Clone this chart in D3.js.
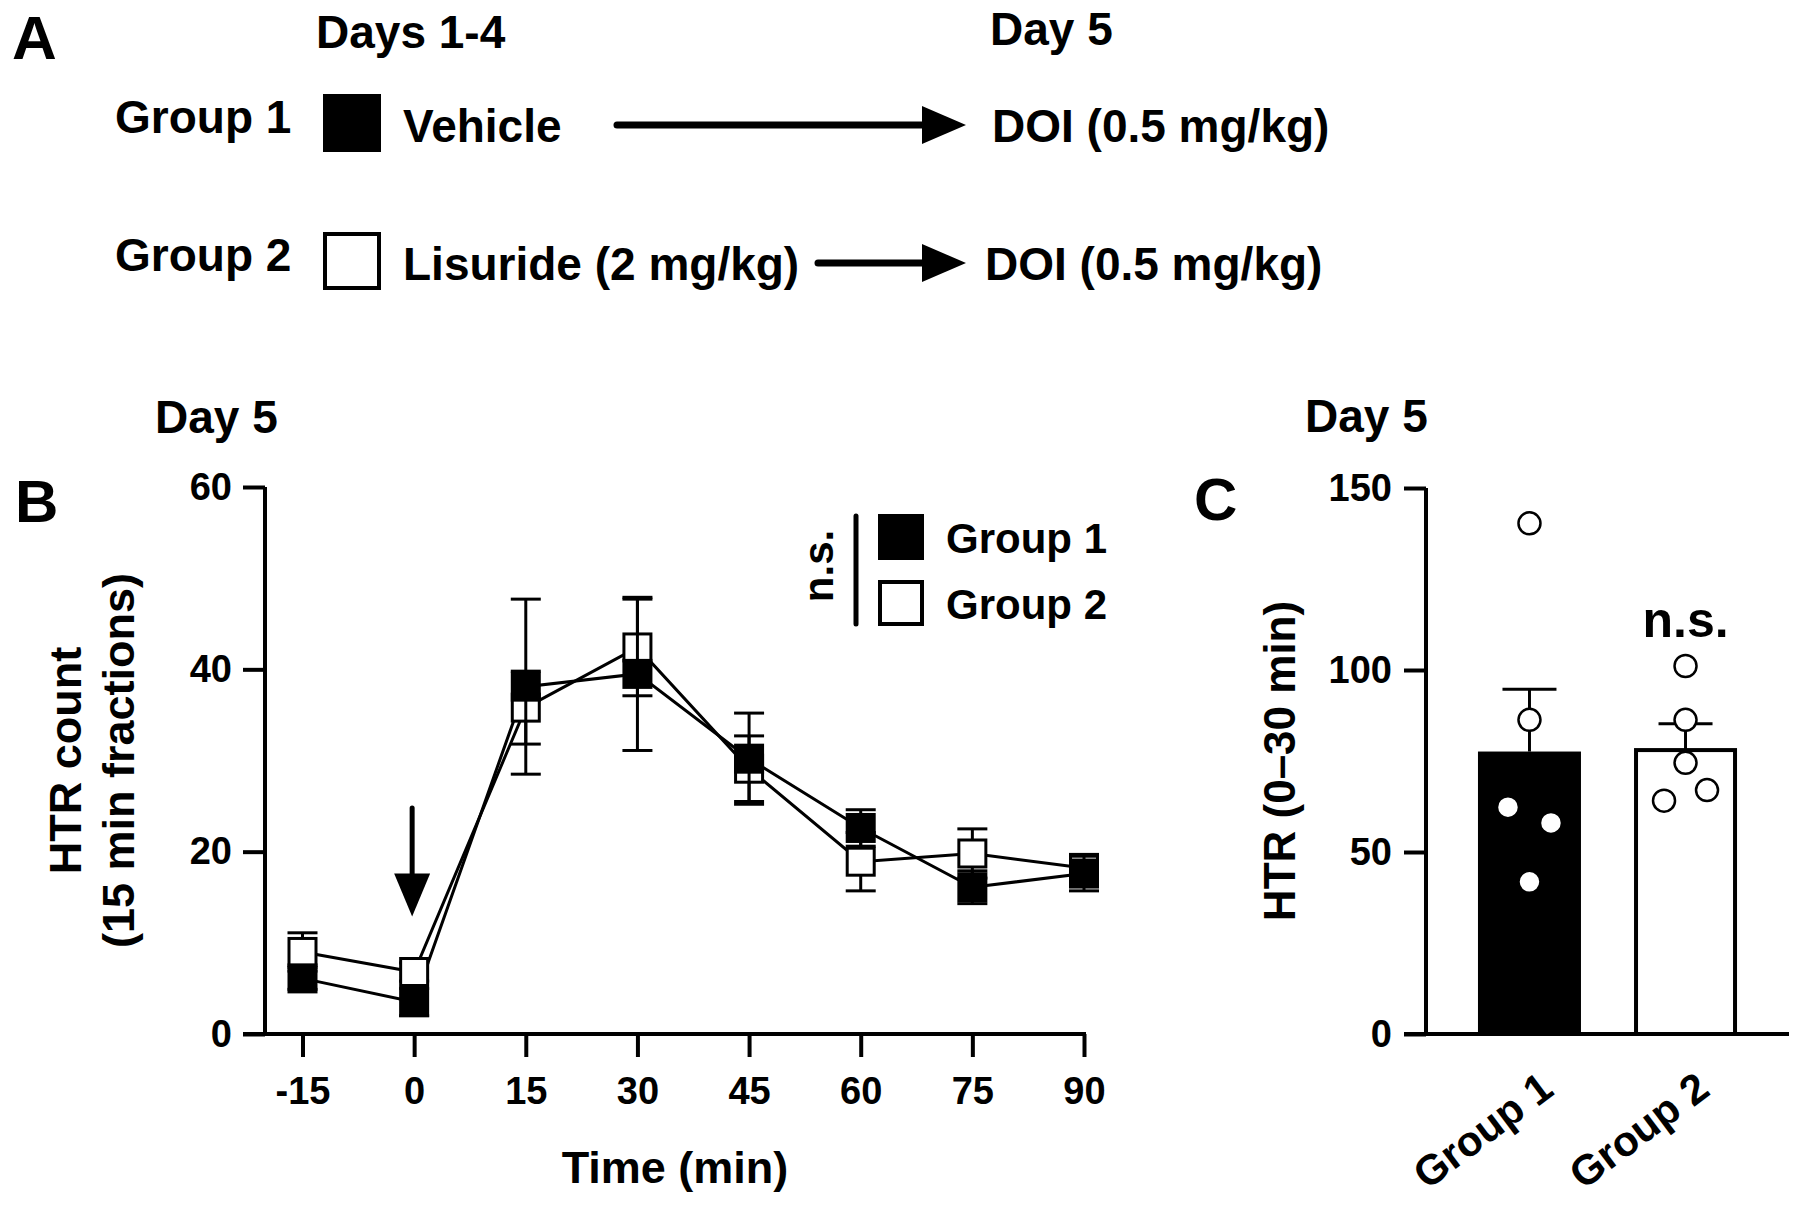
<!DOCTYPE html>
<html><head><meta charset="utf-8">
<script src="https://cdn.jsdelivr.net/npm/d3@7/dist/d3.min.js"></script>
<style>
body{margin:0;background:#fff}
svg text{font-family:"Liberation Sans",Arial,Helvetica,sans-serif;font-weight:bold;fill:#000}
</style>
</head><body>
<svg id="fig" width="1800" height="1205"></svg>
<script>
// ---------------- DATA ----------------
// Panel A protocol
const protocolGroups = ["Group 1", "Group 2"];
const protocolPre = ["Vehicle", "Lisuride (2 mg/kg)"];
const protocolPost = ["DOI (0.5 mg/kg)", "DOI (0.5 mg/kg)"];
const protocolHeaders = ["Days 1-4", "Day 5"];

// Panel B time course (HTR count, 15 min fractions), mean and SEM
const timePoints = [-15, 0, 15, 30, 45, 60, 75, 90];
const timeTickLabels = ["-15", "0", "15", "30", "45", "60", "75", "90"];
const yTicksB = [0, 20, 40, 60];
const group1Mean = [6.1, 3.5, 38.1, 39.5, 30.2, 22.6, 16.1, 17.6];
const group1Sem  = [1.2, 1.5, 9.6, 8.4, 5.0, 2.0, 1.8, 1.9];
const group2Mean = [9.0, 6.8, 35.8, 42.4, 29.1, 18.9, 19.8, 18.2];
const group2Sem  = [2.1, 1.0, 4.0, 5.3, 3.6, 3.2, 2.7, 1.5];
const injectionTime = 0;          // arrow marks DOI injection
const arrowFromTo = [24.8, 12.9]; // arrow span in HTR units

// Panel C (HTR 0-30 min)
const barGroups = ["Group 1", "Group 2"];
const barMeans = [77.6, 78.0];
const barSem = [17.1, 7.2];
const group1Dots = [140.3, 86.3, 62.3, 58.0, 41.8];
const group2Dots = [101.1, 86.3, 74.5, 64.1, 67.0];
const yTicksC = [0, 50, 100, 150];

// ---------------- DRAW ----------------
const svg = d3.select("#fig");
svg.append("rect").attr("width", 1800).attr("height", 1205).attr("fill", "#fff");

function txt(x, y, s, size, anchor) {
  return svg.append("text").attr("x", x).attr("y", y).attr("font-size", size)
    .attr("text-anchor", anchor || "start").text(s);
}

// ===== Panel A =====
txt(12, 59, "A", 62);
txt(316, 48, protocolHeaders[0], 46);
txt(990, 45, protocolHeaders[1], 46);
const rowY = d3.scalePoint().domain(protocolGroups).range([123, 261]);
const arrowStart = [617, 818];
const arrowEnd = 966;
protocolGroups.forEach((g, i) => {
  const cy = rowY(g);
  txt(115, cy + 10, g, 46);
  svg.append("rect").attr("x", 325).attr("y", cy - 27).attr("width", 54).attr("height", 54)
    .attr("fill", i === 0 ? "#000" : "#fff").attr("stroke", "#000").attr("stroke-width", 4);
  txt(403, cy + 19, protocolPre[i], 46);
  svg.append("line").attr("x1", arrowStart[i]).attr("x2", arrowEnd - 40).attr("y1", cy + 2).attr("y2", cy + 2)
    .attr("stroke", "#000").attr("stroke-width", 7).attr("stroke-linecap", "round");
  svg.append("path").attr("d", `M${arrowEnd - 44},${cy + 2 - 19}L${arrowEnd},${cy + 2}L${arrowEnd - 44},${cy + 2 + 19}Z`)
    .attr("fill", "#000");
  txt(i === 0 ? 992 : 985, cy + 19, protocolPost[i], 46);
});

// ===== Panel B =====
txt(155, 433, "Day 5", 46);
txt(15, 522, "B", 60);
const xB = d3.scaleLinear().domain([-15, 90]).range([302.5, 1084]);
const yB = d3.scaleLinear().domain([0, 60]).range([1034, 487]);
const axisX0 = 265;

const gyB = svg.append("g").attr("transform", `translate(${axisX0},0)`)
  .call(d3.axisLeft(yB).tickValues(yTicksB).tickFormat(d => String(d))
    .tickSize(22).tickSizeOuter(0).tickPadding(11));
const gxB = svg.append("g").attr("transform", `translate(0,${yB(0)})`)
  .call(d3.axisBottom(xB).tickValues(timePoints).tickFormat((d, i) => timeTickLabels[i])
    .tickSize(23).tickSizeOuter(0).tickPadding(20));
gxB.select(".domain").remove();
svg.append("line").attr("x1", axisX0 - 22).attr("x2", xB(90) + 2).attr("y1", yB(0)).attr("y2", yB(0))
  .attr("stroke", "#000").attr("stroke-width", 4);
[gyB, gxB].forEach(g => {
  g.selectAll("path.domain").attr("stroke", "#000").attr("stroke-width", 4);
  g.selectAll(".tick line").attr("stroke", "#000").attr("stroke-width", 4);
  g.selectAll(".tick text").attr("font-size", 38).attr("font-family", null).attr("fill", "#000");
});
gyB.selectAll("path.domain").attr("d", `M0,${yB(60)}V${yB(0)}`);

// y label (two lines)
const ylab = svg.append("text").attr("transform", `translate(81,${(yB(0) + yB(60)) / 2}) rotate(-90)`)
  .attr("text-anchor", "middle").attr("font-size", 45);
ylab.append("tspan").attr("x", 0).attr("dy", 0).text("HTR count");
ylab.append("tspan").attr("x", 0).attr("dy", 53).text("(15 min fractions)");
txt(675, 1183, "Time (min)", 45, "middle");

// injection arrow
const ax = xB(injectionTime) - 2;
svg.append("line").attr("x1", ax).attr("x2", ax).attr("y1", yB(arrowFromTo[0])).attr("y2", yB(arrowFromTo[1]) - 30)
  .attr("stroke", "#000").attr("stroke-width", 5).attr("stroke-linecap", "round");
svg.append("path").attr("d", `M${ax - 18},${yB(arrowFromTo[1]) - 43}L${ax + 18},${yB(arrowFromTo[1]) - 43}L${ax},${yB(arrowFromTo[1])}Z`)
  .attr("fill", "#000");

const line = d3.line().x(d => xB(d.t)).y(d => yB(d.m));
const series = [
  {mean: group2Mean, sem: group2Sem, fill: "#fff"},
  {mean: group1Mean, sem: group1Sem, fill: "#000"}
].map(s => ({...s, pts: timePoints.map((t, i) => ({t, m: s.mean[i], s: s.sem[i]}))}));

series.forEach(s => {
  svg.append("path").datum(s.pts).attr("d", line).attr("fill", "none")
    .attr("stroke", "#000").attr("stroke-width", 3);
});
const sq = 30, cap = 30;
series.forEach(s => {
  const g = svg.append("g");
  s.pts.forEach(p => {
    const x = xB(p.t), y1 = yB(p.m + p.s), y2 = yB(p.m - p.s);
    g.append("line").attr("x1", x).attr("x2", x).attr("y1", y1).attr("y2", y2).attr("stroke", "#000").attr("stroke-width", 3);
    [y1, y2].forEach(y => g.append("line").attr("x1", x - cap / 2).attr("x2", x + cap / 2).attr("y1", y).attr("y2", y)
      .attr("stroke", "#000").attr("stroke-width", 3));
  });
  g.selectAll("rect").data(s.pts).join("rect")
    .attr("x", d => xB(d.t) - sq / 2 + 1.5).attr("y", d => yB(d.m) - sq / 2 + 1.5)
    .attr("width", sq - 3).attr("height", sq - 3)
    .attr("fill", s.fill).attr("stroke", "#000").attr("stroke-width", 3);
});

// legend
svg.append("line").attr("x1", 856).attr("x2", 856).attr("y1", 516).attr("y2", 624)
  .attr("stroke", "#000").attr("stroke-width", 5).attr("stroke-linecap", "round");
svg.append("text").attr("transform", "translate(833,566) rotate(-90)").attr("text-anchor", "middle")
  .attr("font-size", 42).text("n.s.");
["#000", "#fff"].forEach((f, i) => {
  const cy = 537 + i * 66;
  svg.append("rect").attr("x", 880).attr("y", cy - 21).attr("width", 42).attr("height", 42)
    .attr("fill", f).attr("stroke", "#000").attr("stroke-width", 4);
  txt(946, cy + 16, protocolGroups[i], 42);
});

// ===== Panel C =====
txt(1305, 432, "Day 5", 46);
txt(1194, 520, "C", 60);
const axisXC = 1426;
const yC = d3.scaleLinear().domain([0, 150]).range([1034, 488]);
const xC = d3.scalePoint().domain(barGroups).range([axisXC, 1789]).padding(0.663);
const barW = 103;

const gyC = svg.append("g").attr("transform", `translate(${axisXC},0)`)
  .call(d3.axisLeft(yC).tickValues(yTicksC).tickFormat(d => String(d))
    .tickSize(22).tickSizeOuter(0).tickPadding(12));
gyC.select("path.domain").attr("d", `M0,${yC(150)}V${yC(0)}`).attr("stroke", "#000").attr("stroke-width", 4);
gyC.selectAll(".tick line").attr("stroke", "#000").attr("stroke-width", 4);
gyC.selectAll(".tick text").attr("font-size", 38).attr("font-family", null).attr("fill", "#000");
svg.append("line").attr("x1", axisXC - 22).attr("x2", 1789).attr("y1", yC(0)).attr("y2", yC(0))
  .attr("stroke", "#000").attr("stroke-width", 4);

// bars
barGroups.forEach((g, i) => {
  const cx = xC(g);
  if (i === 0) {
    svg.append("rect").attr("x", cx - barW / 2).attr("y", yC(barMeans[i])).attr("width", barW)
      .attr("height", yC(0) - yC(barMeans[i])).attr("fill", "#000");
  } else {
    svg.append("rect").attr("x", cx - barW / 2 + 2).attr("y", yC(barMeans[i])).attr("width", barW - 4)
      .attr("height", yC(0) - yC(barMeans[i])).attr("fill", "#fff").attr("stroke", "#000").attr("stroke-width", 4);
  }
  const top = yC(barMeans[i] + barSem[i]);
  svg.append("line").attr("x1", cx).attr("x2", cx).attr("y1", yC(barMeans[i])).attr("y2", top)
    .attr("stroke", "#000").attr("stroke-width", 3);
  svg.append("line").attr("x1", cx - 27).attr("x2", cx + 27).attr("y1", top).attr("y2", top)
    .attr("stroke", "#000").attr("stroke-width", 3);
});

// dots with simple side-by-side spreading of overlapping neighbours
[group1Dots, group2Dots].forEach((vals, gi) => {
  const cx = xC(barGroups[gi]);
  const clusters = [];
  vals.forEach((v, k) => {
    const last = clusters[clusters.length - 1];
    if (last && Math.abs(yC(vals[last[last.length - 1]]) - yC(v)) < 24) last.push(k);
    else clusters.push([k]);
  });
  clusters.forEach(c => {
    c.forEach((k, j) => {
      const off = (j - (c.length - 1) / 2) * 43;
      svg.append("circle").attr("cx", cx + off).attr("cy", yC(vals[k])).attr("r", 11)
        .attr("fill", "#fff").attr("stroke", "#000").attr("stroke-width", 2.5);
    });
  });
});

txt(xC(barGroups[1]), 637, "n.s.", 50, "middle");

// y label
svg.append("text").attr("transform", `translate(1295,${(yC(0) + yC(150)) / 2}) rotate(-90)`)
  .attr("text-anchor", "middle").attr("font-size", 44).text("HTR (0–30 min)");

// rotated x labels
barGroups.forEach(g => {
  svg.append("text").attr("transform", `translate(${xC(g) - 38},1142) rotate(-37)`)
    .attr("text-anchor", "middle").attr("font-size", 42).text(g);
});
</script>
</body></html>
